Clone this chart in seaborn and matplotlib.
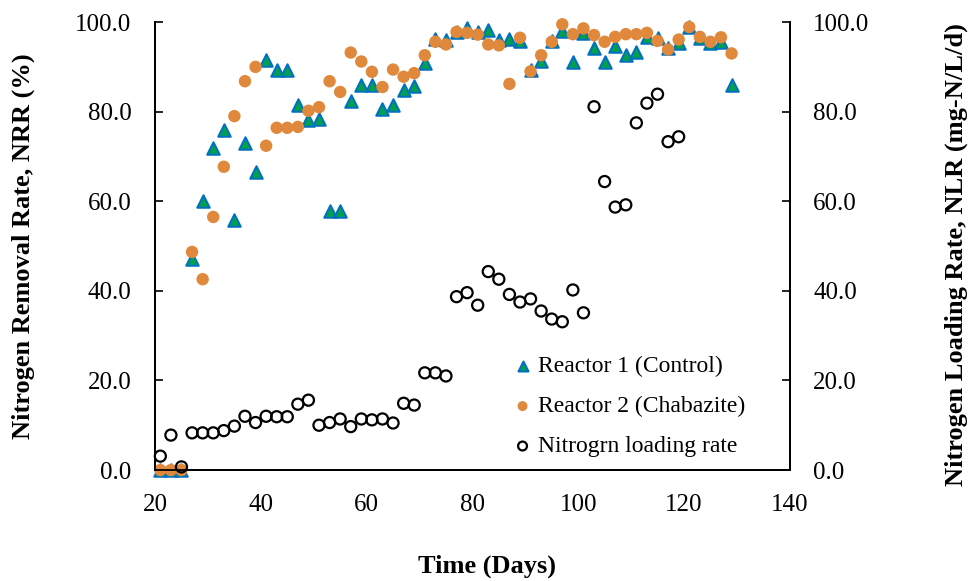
import numpy as np
import pandas as pd
import matplotlib
matplotlib.use("Agg")
import matplotlib.pyplot as plt
import seaborn as sns

days = list(range(21, 130, 2))

reactor1 = [0, 0, 0, 47.1, 60.0, 71.9, 75.9, 55.8, 73.0, 66.5,
            91.5, 89.3, 89.3, 81.5, 78.1, 78.3, 57.8, 57.8, 82.4, 86.0,
            86.0, 80.7, 81.4, 84.8, 85.8, 90.8, 96.3, 96.0, 97.8, 98.6,
            97.8, 98.2, 96.1, 96.3, 95.8, 89.3, 91.3, 95.8, 98.0, 91.1,
            97.6, 94.2, 91.1, 94.6, 92.6, 93.3, 96.7, 96.4, 94.2, 95.3,
            98.9, 96.4, 95.3, 95.6, 86.0]

reactor2 = [0, 0, 0, 48.7, 42.6, 56.5, 67.7, 79.0, 86.8, 90.0,
            72.4, 76.4, 76.4, 76.6, 80.2, 81.0, 86.8, 84.4, 93.2, 91.2,
            88.9, 85.5, 89.4, 87.8, 88.6, 92.6, 95.6, 95.0, 97.8, 97.6,
            97.2, 95.0, 94.8, 86.2, 96.5, 89.0, 92.6, 95.6, 99.5, 97.3,
            98.6, 97.1, 95.6, 96.7, 97.3, 97.3, 97.6, 95.8, 93.9, 96.1,
            98.9, 96.7, 95.6, 96.6, 93.0]

nlr_days = list(range(21, 120, 2))
nlr = [3.1, 7.8, 0.7, 8.3, 8.3, 8.3, 8.8, 9.8, 12.0, 10.6,
       12.0, 11.9, 11.9, 14.7, 15.6, 10.0, 10.6, 11.4, 9.7, 11.4,
       11.2, 11.4, 10.5, 14.9, 14.5, 21.7, 21.7, 21.0, 38.7, 39.6,
       36.8, 44.3, 42.6, 39.2, 37.5, 38.2, 35.5, 33.7, 33.1, 40.2,
       35.1, 81.1, 64.4, 58.7, 59.2, 77.5, 81.9, 83.9, 73.3, 74.4]

yticks = [0, 20, 40, 60, 80, 100]
xticks = [20, 40, 60, 80, 100, 120, 140]

df = pd.DataFrame({"day": days, "r1": reactor1, "r2": reactor2})
dfn = pd.DataFrame({"day": nlr_days, "nlr": nlr})

sns.set_style("white")
plt.rcParams["font.family"] = ["Liberation Serif", "DejaVu Serif"]
plt.rcParams.update({"text.color": "black", "axes.labelcolor": "black",
                     "xtick.color": "black", "ytick.color": "black"})

fig = plt.figure(figsize=(9.69, 5.81), dpi=100)
ax = fig.add_axes([0.16, 0.191, 0.655, 0.771])
ax2 = ax.twinx()

sns.scatterplot(data=df, x="day", y="r1", ax=ax, marker="^", s=80,
                color="#00A04C", edgecolor="#0070C0", linewidth=1.5,
                label="Reactor 1 (Control)", zorder=3, clip_on=False)
sns.scatterplot(data=df, x="day", y="r2", ax=ax, marker="o", s=80,
                color="#E0883C", edgecolor="none", linewidth=0,
                label="Reactor 2 (Chabazite)", zorder=4, clip_on=False)
sns.scatterplot(data=dfn, x="day", y="nlr", ax=ax2, marker="o", s=64,
                facecolor="none", edgecolor="black", linewidth=1.6,
                label="Nitrogrn loading rate", zorder=5, clip_on=False)

for a in (ax, ax2):
    a.set_ylim(0, 100)
    a.set_yticks(yticks)
    a.set_yticklabels([f"{v:.1f}" for v in yticks])
    a.tick_params(direction="in", length=6, width=1.2, labelsize=18,
                  color="black", labelcolor="black")
    a.spines["top"].set_visible(False)
    for s in ["left", "right", "bottom"]:
        a.spines[s].set_linewidth(1.3)
        a.spines[s].set_color("black")
ax.set_xlim(20, 140)
ax.set_xticks(xticks)
ax.tick_params(axis="x", pad=17)
ax.tick_params(axis="y", pad=17)
ax2.tick_params(axis="y", pad=17)

lab_font = dict(fontsize=19, fontweight="bold", color="black")
ax.set_xlabel("Time (Days)", **lab_font)
ax.set_ylabel("Nitrogen Removal Rate, NRR (%)", **lab_font)
ax2.set_ylabel("Nitrogen Loading Rate, NLR (mg-N/L/d)", **lab_font)
ax.xaxis.set_label_coords(0.523, -0.188)
ax.yaxis.set_label_coords(-0.189, 0.5)
ax2.yaxis.set_label_coords(1.244, 0.48)

h1, l1 = ax.get_legend_handles_labels()
h2, l2 = ax2.get_legend_handles_labels()
if ax.get_legend():
    ax.get_legend().remove()
if ax2.get_legend():
    ax2.get_legend().remove()
leg = ax2.legend(h1 + h2, l1 + l2, loc="upper left", bbox_to_anchor=(0.566, 0.255),
                 frameon=False, fontsize=17, handlelength=0.7, handletextpad=0.3,
                 markerscale=0.8, labelspacing=0.78, borderpad=0, borderaxespad=0)
for t in leg.get_texts():
    t.set_color("black")

fig.savefig("out.png", dpi=100)
